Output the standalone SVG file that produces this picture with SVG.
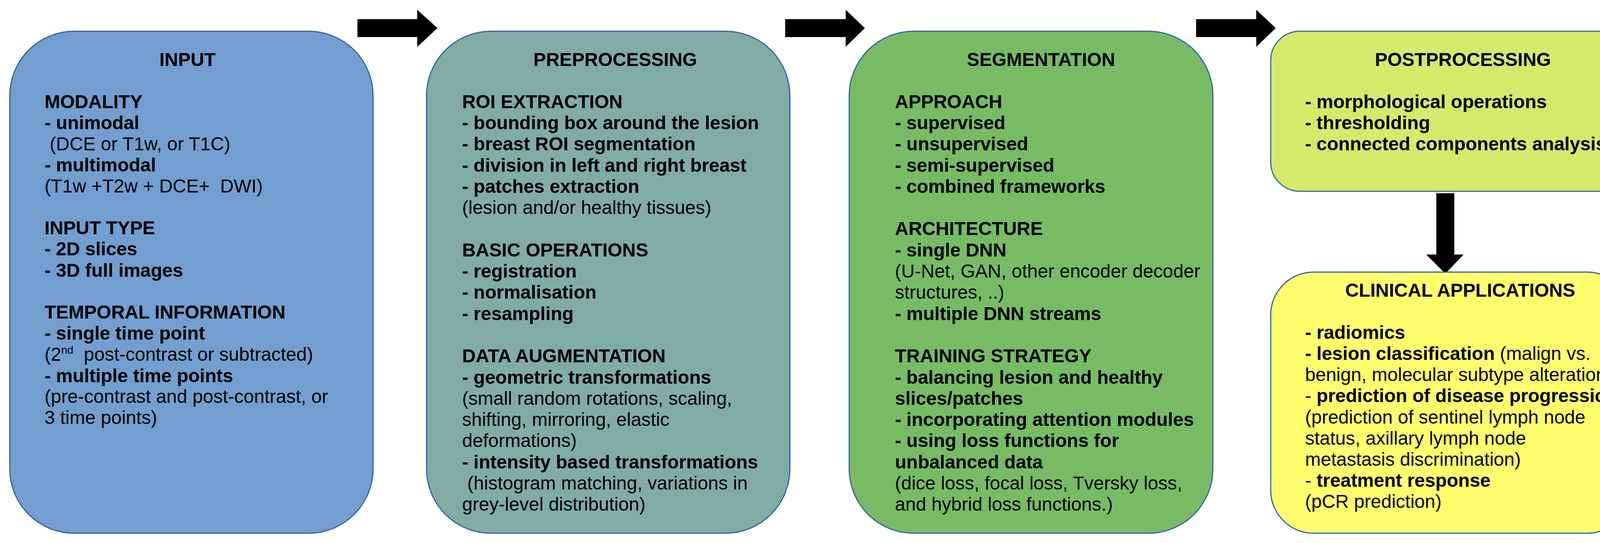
<svg xmlns="http://www.w3.org/2000/svg" width="4212" height="1391" viewBox="0 0 4212 1391">
<style>
text{font-family:"Liberation Sans",Arial,sans-serif;font-size:48px;fill:#000}
.b{font-weight:bold}
.t{font-weight:bold;text-anchor:middle}
.box{stroke:#3465a4;stroke-width:3}
.arr{fill:#000}
</style>
<rect width="4212" height="1391" fill="#fff"/>
<g id="connectors">
<polygon class="arr" points="915,49 1068,49 1068,25 1120,72 1068,120 1068,95 915,95"/>
<polygon class="arr" points="2010,49 2165,49 2165,25 2214,72 2165,120 2165,95 2010,95"/>
<polygon class="arr" points="3062,49 3216,49 3216,25 3266,72 3216,120 3216,95 3062,95"/>
<polygon class="arr" points="3677,495 3723,495 3723,652 3747,652 3700,701 3651,652 3677,652"/>
</g>
<g id="input">
<rect class="box" x="25" y="80" width="930" height="1286" rx="165" ry="165" fill="#729fcf"/>
<text class="t" x="480" y="169">INPUT</text>
<text x="114" y="277" class="b">MODALITY</text>
<text x="114" y="331" class="b">- unimodal</text>
<text x="114" y="385" xml:space="preserve"> (DCE or T1w, or T1C)</text>
<text x="114" y="439" class="b">- multimodal</text>
<text x="114" y="493" xml:space="preserve">(T1w +T2w + DCE+  DWI)</text>
<text x="114" y="600" class="b">INPUT TYPE</text>
<text x="114" y="654" class="b">- 2D slices</text>
<text x="114" y="709" class="b">- 3D full images</text>
<text x="114" y="816" class="b">TEMPORAL INFORMATION</text>
<text x="114" y="870" class="b">- single time point</text>
<text x="114" y="924" xml:space="preserve">(2<tspan font-size="28" dy="-18">nd</tspan><tspan dy="18">  post-contrast or subtracted)</tspan></text>
<text x="114" y="979" class="b">- multiple time points</text>
<text x="114" y="1032">(pre-contrast and post-contrast, or</text>
<text x="114" y="1086">3 time points)</text>
</g>
<g id="preprocessing">
<rect class="box" x="1092" y="80" width="930" height="1286" rx="165" ry="165" fill="#81aca6"/>
<text class="t" x="1575" y="169">PREPROCESSING</text>
<text x="1183" y="277" class="b">ROI EXTRACTION</text>
<text x="1183" y="331" class="b">- bounding box around the lesion</text>
<text x="1183" y="385" class="b">- breast ROI segmentation</text>
<text x="1183" y="440" class="b">- division in left and right breast</text>
<text x="1183" y="494" class="b">- patches extraction</text>
<text x="1183" y="548">(lesion and/or healthy tissues)</text>
<text x="1183" y="657" class="b">BASIC OPERATIONS</text>
<text x="1183" y="711" class="b">- registration</text>
<text x="1183" y="765" class="b">- normalisation</text>
<text x="1183" y="820" class="b">- resampling</text>
<text x="1183" y="928" class="b">DATA AUGMENTATION</text>
<text x="1183" y="983" class="b">- geometric transformations</text>
<text x="1183" y="1037">(small random rotations, scaling,</text>
<text x="1183" y="1091">shifting, mirroring, elastic</text>
<text x="1183" y="1145">deformations)</text>
<text x="1183" y="1200" class="b">- intensity based transformations</text>
<text x="1183" y="1254" xml:space="preserve"> (histogram matching, variations in</text>
<text x="1183" y="1308">grey-level distribution)</text>
</g>
<g id="segmentation">
<rect class="box" x="2174" y="80" width="931" height="1286" rx="165" ry="165" fill="#77bc65"/>
<text class="t" x="2665" y="169">SEGMENTATION</text>
<text x="2291" y="277" class="b">APPROACH</text>
<text x="2291" y="331" class="b">- supervised</text>
<text x="2291" y="385" class="b">- unsupervised</text>
<text x="2291" y="440" class="b">- semi-supervised</text>
<text x="2291" y="494" class="b">- combined frameworks</text>
<text x="2291" y="602" class="b">ARCHITECTURE</text>
<text x="2291" y="657" class="b">- single DNN</text>
<text x="2291" y="711">(U-Net, GAN, other encoder decoder</text>
<text x="2291" y="765">structures, ..)</text>
<text x="2291" y="820" class="b">- multiple DNN streams</text>
<text x="2291" y="928" class="b">TRAINING STRATEGY</text>
<text x="2291" y="983" class="b">- balancing lesion and healthy</text>
<text x="2291" y="1037" class="b">slices/patches</text>
<text x="2291" y="1091" class="b">- incorporating attention modules</text>
<text x="2291" y="1145" class="b">- using loss functions for</text>
<text x="2291" y="1200" class="b">unbalanced data</text>
<text x="2291" y="1254">(dice loss, focal loss, Tversky loss,</text>
<text x="2291" y="1308">and hybrid loss functions.)</text>
</g>
<g id="postprocessing">
<rect class="box" x="3253" y="80" width="920" height="410" rx="75" ry="75" fill="#d4ea6b"/>
<text class="t" x="3745" y="169">POSTPROCESSING</text>
<text x="3341" y="277" class="b">- morphological operations</text>
<text x="3341" y="331" class="b">- thresholding</text>
<text x="3341" y="385" class="b">- connected components analysis</text>
</g>
<g id="clinical">
<rect class="box" x="3253" y="697" width="920" height="669" rx="110" ry="110" fill="#ffff6d"/>
<text class="t" x="3738" y="760">CLINICAL APPLICATIONS</text>
<text x="3341" y="868" class="b">- radiomics</text>
<text x="3341" y="922"><tspan class="b">- lesion classification</tspan> (malign vs.</text>
<text x="3341" y="976">benign, molecular subtype alteration)</text>
<text x="3341" y="1030">- <tspan class="b">prediction of disease progression</tspan></text>
<text x="3341" y="1085">(prediction of sentinel lymph node</text>
<text x="3341" y="1139">status, axillary lymph node</text>
<text x="3341" y="1193">metastasis discrimination)</text>
<text x="3341" y="1247">- <tspan class="b">treatment response</tspan></text>
<text x="3341" y="1301">(pCR prediction)</text>
</g>
</svg>
